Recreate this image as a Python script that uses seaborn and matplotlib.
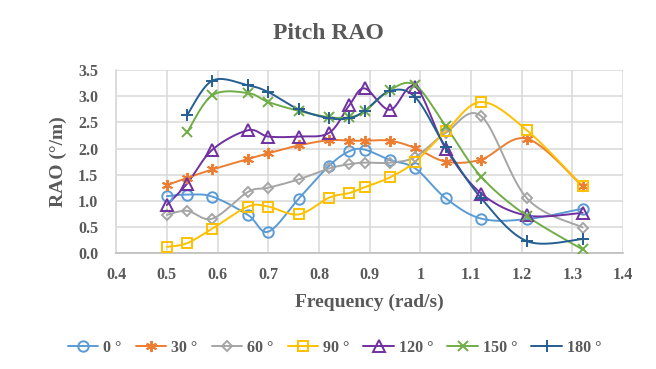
import numpy as np
import pandas as pd
import matplotlib
matplotlib.use("Agg")
import matplotlib.pyplot as plt
import seaborn as sns
from matplotlib.lines import Line2D

# Data
freq_all = [0.50, 0.54, 0.59, 0.66, 0.70, 0.76, 0.82, 0.86, 0.89, 0.94, 0.99, 1.05, 1.12, 1.21, 1.32]
freq_head = freq_all[1:]

rao_0 = [1.09, 1.12, 1.08, 0.73, 0.41, 1.04, 1.67, 1.95, 1.98, 1.78, 1.62, 1.05, 0.66, 0.65, 0.85]
rao_30 = [1.30, 1.44, 1.60, 1.80, 1.91, 2.06, 2.16, 2.15, 2.15, 2.15, 2.01, 1.75, 1.79, 2.19, 1.28]
rao_60 = [0.73, 0.81, 0.66, 1.17, 1.25, 1.41, 1.62, 1.70, 1.73, 1.73, 1.84, 2.30, 2.62, 1.05, 0.49]
rao_90 = [0.12, 0.19, 0.47, 0.89, 0.89, 0.74, 1.06, 1.15, 1.26, 1.45, 1.75, 2.33, 2.89, 2.35, 1.28]
rao_120 = [0.92, 1.33, 1.98, 2.35, 2.23, 2.23, 2.30, 2.83, 3.15, 2.74, 3.18, 2.00, 1.14, 0.72, 0.77]
rao_150 = [2.31, 3.02, 3.06, 2.89, 2.72, 2.60, 2.60, 2.71, 3.12, 3.21, 2.43, 1.46, 0.71, 0.07]
rao_180 = [2.64, 3.30, 3.21, 3.08, 2.75, 2.58, 2.58, 2.72, 3.10, 2.98, 2.03, 1.05, 0.23, 0.27]

labels = ["0 °", "30 °", "60 °", "90 °", "120 °", "150 °", "180 °"]
xs = [freq_all, freq_all, freq_all, freq_all, freq_all, freq_head, freq_head]
ys = [rao_0, rao_30, rao_60, rao_90, rao_120, rao_150, rao_180]
colors = ["#5B9BD5", "#ED7D31", "#A5A5A5", "#FFC000", "#7030A0", "#70AD47", "#255E91"]
markers = ["o", (6, 2, 0), "D", "s", "^", "x", "+"]
msizes = [7.5, 8, 5.5, 7.5, 8, 7.5, 9]


def smooth(x, y, n=20):
    # Catmull-Rom curve through the points, like Excel's smoothed line
    x = np.asarray(x, float)
    y = np.asarray(y, float)
    sx, sy = 5.07, 0.523  # screen scale so the curve is smoothed in pixel space
    p = np.column_stack([x * 100 * sx / 10, y * 100 * sy])
    pts = np.vstack([p[0], p, p[-1]])
    out = []
    t = np.linspace(0, 1, n)[:, None]
    for i in range(1, len(pts) - 2):
        p0, p1, p2, p3 = pts[i - 1], pts[i], pts[i + 1], pts[i + 2]
        m1 = (p2 - p0) / 2
        m2 = (p3 - p1) / 2
        h00 = 2 * t**3 - 3 * t**2 + 1
        h10 = t**3 - 2 * t**2 + t
        h01 = -2 * t**3 + 3 * t**2
        h11 = t**3 - t**2
        out.append(h00 * p1 + h10 * m1 + h01 * p2 + h11 * m2)
    c = np.vstack(out)
    return c[:, 0] / (100 * sx / 10), c[:, 1] / (100 * sy)


sns.set_theme(style="whitegrid")
plt.rcParams["font.family"] = ["Liberation Serif", "DejaVu Serif"]
text_color = "#595959"

fig = plt.figure(figsize=(6.56, 3.69), dpi=100)
ax = fig.add_axes([0.177, 0.314, 0.773, 0.496])

handles = []
for x, y, lab, col, mk, ms in zip(xs, ys, labels, colors, markers, msizes):
    cx, cy = smooth(x, y)
    curve = pd.DataFrame({"f": cx, "r": cy})
    sns.lineplot(data=curve, x="f", y="r", ax=ax, color=col, lw=1.4,
                 sort=False, estimator=None, legend=False)
    ax.plot(x, y, ls="none", marker=mk, ms=ms, mfc="none", mec=col, mew=1.4, zorder=3)
    handles.append(Line2D([], [], color=col, lw=1.4, marker=mk, ms=ms,
                          mfc="none", mec=col, mew=1.4, label=lab))

ax.set_xlim(0.4, 1.4)
ax.set_ylim(0, 3.5)
ax.set_xticks(np.arange(0.4, 1.41, 0.1))
ax.set_yticks(np.arange(0, 3.51, 0.5))
ax.set_xticklabels(["0.4", "0.5", "0.6", "0.7", "0.8", "0.9", "1", "1.1", "1.2", "1.3", "1.4"])
ax.set_yticklabels([f"{v:.1f}" for v in np.arange(0, 3.51, 0.5)])
ax.grid(True, color="#D9D9D9", lw=1.1)
for s in ["top", "right"]:
    ax.spines[s].set_visible(False)
ax.spines["left"].set_color("#D9D9D9")
ax.spines["bottom"].set_color("#BFBFBF")
ax.tick_params(axis="both", length=0, labelsize=11.5, labelcolor=text_color)
ax.tick_params(axis="x", pad=10)
ax.tick_params(axis="y", pad=13)
for lbl in ax.get_xticklabels() + ax.get_yticklabels():
    lbl.set_fontweight("bold")

ax.set_xlabel("Frequency (rad/s)", fontsize=14, fontweight="bold", color=text_color, labelpad=8)
ax.set_ylabel("RAO (°/m)", fontsize=14, fontweight="bold", color=text_color, labelpad=8)
fig.text(0.5, 0.908, "Pitch RAO", ha="center", va="center", fontsize=17,
         fontweight="bold", color=text_color)

fig.legend(handles=handles, loc="center", bbox_to_anchor=(0.51, 0.057), ncol=7,
           frameon=False, prop={"weight": "bold", "size": 11.5}, labelcolor=text_color,
           handlelength=1.9, handletextpad=0.3, columnspacing=0.9)

fig.savefig("out.png", dpi=100)
